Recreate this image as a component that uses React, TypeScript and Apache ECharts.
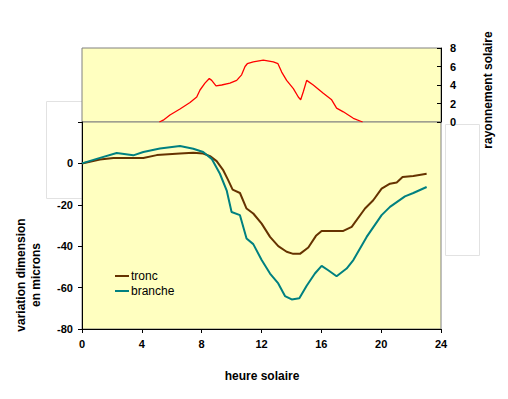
import React, { useEffect, useRef } from "react";
import * as echarts from "echarts";

const FONT = "'Liberation Sans', Arial, sans-serif";

const xTicks = [0, 4, 8, 12, 16, 20, 24];
const dimTicks = [-80, -60, -40, -20, 0, 20];
const rayTicks = [0, 2, 4, 6, 8];

const rayonnement: [number, number][] = [
  [5.17, 0], [5.43, 0.2], [5.88, 0.76], [6.55, 1.4], [7.22, 2.1], [7.67, 2.7],
  [7.89, 3.46], [8.22, 4.2], [8.51, 4.7], [8.67, 4.5], [8.96, 3.9], [9.34, 4.0],
  [9.89, 4.2], [10.34, 4.5], [10.67, 5.1], [10.9, 6.0], [11.05, 6.3], [11.45, 6.5],
  [12.12, 6.7], [12.79, 6.5], [13.1, 6.3], [13.35, 5.4], [13.68, 4.5], [14.13, 3.6],
  [14.46, 2.7], [14.62, 2.4], [14.8, 3.3], [15.02, 4.5], [15.46, 4.0], [16.13, 3.1],
  [16.69, 2.4], [17.02, 1.5], [17.47, 1.1], [18.14, 0.4], [18.76, 0],
];

const tronc: [number, number][] = [
  [0, 0], [1.2, 1.9], [2.1, 2.6], [4.1, 2.6], [5.0, 4.0], [6.55, 4.8], [7.44, 5.1],
  [8.1, 4.8], [8.56, 3.5], [9.0, 1.1], [9.45, -3.4], [9.78, -8.2], [10.07, -12.7],
  [10.56, -14.3], [11.0, -21.8], [11.45, -24.2], [12.01, -29.1], [12.57, -35.5],
  [13.12, -40], [13.68, -42.7], [14.12, -43.7], [14.57, -43.7], [15.13, -40.6],
  [15.64, -35], [16.02, -32.6], [17.47, -32.6], [18.03, -30.7], [18.92, -21.8],
  [19.47, -17.8], [20.03, -12.2], [20.59, -9.8], [21.04, -9.2], [21.43, -6.6],
  [22.15, -6.1], [23.04, -5.0],
];

const branche: [number, number][] = [
  [0, 0], [0.98, 2.2], [2.32, 5.0], [3.43, 3.9], [4.1, 5.5], [5.21, 7.2], [6.55, 8.4],
  [7.44, 7.1], [8.1, 5.5], [8.67, 2.2], [9.22, -5.0], [9.67, -13], [10.0, -23.5],
  [10.56, -25], [11.0, -36.3], [11.45, -39], [12.01, -46.7], [12.57, -53.2],
  [13.12, -58], [13.57, -64.1], [14.02, -65.7], [14.53, -65.2], [15.02, -59.1],
  [15.57, -53.2], [16.02, -49.5], [16.46, -51.6], [17.02, -54.5], [17.69, -50.8],
  [18.14, -46.7], [19.03, -35.5], [20.03, -25], [20.59, -21], [21.59, -15.9],
  [22.15, -14.3], [23.04, -11.4],
];

const tickLabel = { fontFamily: FONT, fontWeight: "bold" as const, fontSize: 11, color: "#000" };

export default function App() {
  const ref = useRef<HTMLDivElement>(null);
  useEffect(() => {
    if (!ref.current) return;
    const chart = echarts.init(ref.current, undefined, { renderer: "svg" });
    chart.setOption({
      animation: false,
      backgroundColor: "#ffffff",
      graphic: [
        { type: "rect", z: -10, shape: { x: 46.5, y: 101.5, width: 36, height: 97 }, style: { fill: "#fff", stroke: "#e2e2e2", lineWidth: 1 } },
        { type: "rect", z: -10, shape: { x: 445.5, y: 124.5, width: 34, height: 131 }, style: { fill: "#fff", stroke: "#e2e2e2", lineWidth: 1 } },
        {
          type: "text", x: 28, y: 275, rotation: Math.PI / 2,
          style: { text: "variation dimension\nen microns", fontFamily: FONT, fontWeight: "bold", fontSize: 12, fill: "#000", align: "center", verticalAlign: "middle", lineHeight: 15 },
        },
        {
          type: "text", x: 488, y: 90, rotation: Math.PI / 2,
          style: { text: "rayonnement solaire", fontFamily: FONT, fontWeight: "bold", fontSize: 12, fill: "#000", align: "center", verticalAlign: "middle" },
        },
        {
          type: "text", x: 262, y: 376,
          style: { text: "heure solaire", fontFamily: FONT, fontWeight: "bold", fontSize: 12, fill: "#000", align: "center", verticalAlign: "middle" },
        },
      ],
      legend: {
        orient: "vertical", left: 115, top: 269, padding: 0, itemGap: 1,
        itemWidth: 14, itemHeight: 2, icon: "rect",
        textStyle: { fontFamily: FONT, fontSize: 12, color: "#000", lineHeight: 14, padding: [0, 0, 0, -3] },
        data: ["tronc", "branche"],
      },
      grid: [
        { left: 82, top: 48, width: 359, height: 74, show: true, backgroundColor: "#FFFFC0", borderColor: "#808080", borderWidth: 1 },
        { left: 82, top: 122, width: 359, height: 207, show: true, backgroundColor: "#FFFFC0", borderColor: "#808080", borderWidth: 1 },
      ],
      xAxis: [
        { gridIndex: 0, type: "value", min: 0, max: 24, show: false, axisLine: { show: false, onZero: false }, splitLine: { show: false } },
        {
          gridIndex: 1, type: "value", min: xTicks[0], max: xTicks[xTicks.length - 1], interval: 4,
          axisLine: { onZero: false, lineStyle: { color: "#000", width: 1 } },
          axisTick: { show: true, length: 4, lineStyle: { color: "#000" } },
          axisLabel: { ...tickLabel, margin: 9 },
          splitLine: { show: false },
        },
      ],
      yAxis: [
        {
          gridIndex: 0, type: "value", position: "right", min: rayTicks[0], max: rayTicks[rayTicks.length - 1], interval: 2,
          axisLine: { show: true, onZero: false, lineStyle: { color: "#000", width: 1 } },
          axisTick: { show: true, inside: true, length: 4, lineStyle: { color: "#000" } },
          axisLabel: { ...tickLabel, margin: 9 },
          splitLine: { show: false },
        },
        {
          gridIndex: 1, type: "value", min: dimTicks[0], max: dimTicks[dimTicks.length - 1], interval: 20,
          axisLine: { show: true, onZero: false, lineStyle: { color: "#000", width: 1 } },
          axisTick: { show: true, length: 4, lineStyle: { color: "#000" } },
          axisLabel: { ...tickLabel, margin: 9, formatter: (v: number) => (v > 0 ? "" : String(v)) },
          splitLine: { show: false },
        },
      ],
      series: [
        {
          name: "rayonnement", type: "line", xAxisIndex: 0, yAxisIndex: 0, data: rayonnement,
          showSymbol: false, lineStyle: { color: "#FF0000", width: 1.3 }, itemStyle: { color: "#FF0000" },
        },
        {
          name: "tronc", type: "line", xAxisIndex: 1, yAxisIndex: 1, data: tronc,
          showSymbol: false, lineStyle: { color: "#663300", width: 2 }, itemStyle: { color: "#663300" },
        },
        {
          name: "branche", type: "line", xAxisIndex: 1, yAxisIndex: 1, data: branche,
          showSymbol: false, lineStyle: { color: "#008080", width: 2 }, itemStyle: { color: "#008080" },
        },
      ],
    });
    return () => chart.dispose();
  }, []);
  return <div ref={ref} style={{ width: 508, height: 399, position: "absolute", left: 0, top: 0 }} />;
}
